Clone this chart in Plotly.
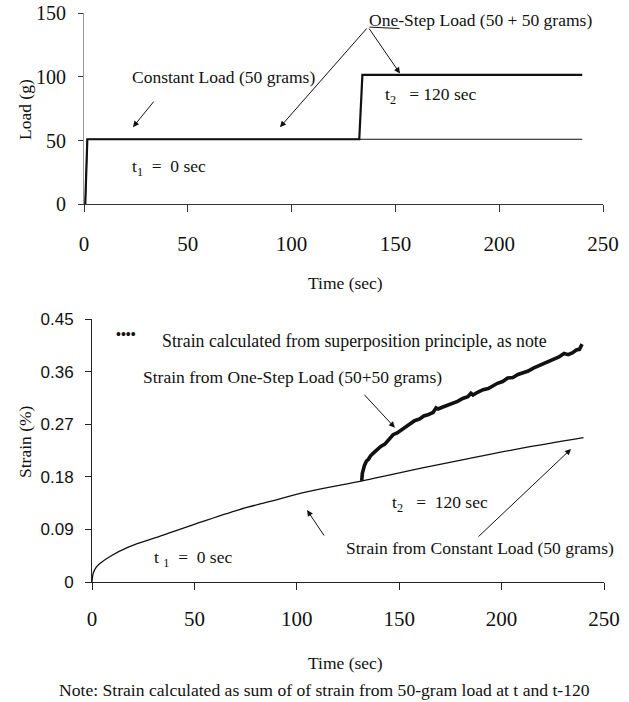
import plotly.graph_objects as go

# ---------------- data ----------------
# Top chart: load history
t_const_load = [0.6, 1.6, 240]
load_const = [0, 51, 51]
t_step_load = [0.6, 1.6, 132.6, 134.1, 240]
load_step = [0, 51, 51, 101.5, 101.5]

# Bottom chart: strain from constant load (50 g)
t_const_strain = [0, 0.6, 2, 4, 9, 18, 33, 51, 72, 86, 106, 132, 145, 165, 188, 210, 240]
strain_const = [0, 0.015, 0.025, 0.032, 0.044, 0.060, 0.078, 0.100, 0.124, 0.137,
                0.155, 0.173, 0.183, 0.198, 0.214, 0.229, 0.247]

# Bottom chart: strain from one-step load (50+50 g)
t_step_strain = [131.7, 132.0, 133, 134, 135, 136, 137.5, 139, 141, 143, 145, 147, 149, 151,
                 153, 155, 157.5, 160, 162, 164, 166.5, 168, 169, 171, 173.5, 176, 178.5,
                 181, 183.5, 185, 186, 188.5, 191, 193.5, 196, 198, 200.5, 203, 205.5, 208,
                 210.5, 213, 215.5, 218, 220.5, 223, 225.5, 228, 230.5, 232.5, 234.5,
                 236.5, 238, 239.3]
strain_step = [0.173, 0.186, 0.199, 0.207, 0.210, 0.216, 0.221, 0.226, 0.232, 0.236, 0.243,
               0.252, 0.255, 0.260, 0.266, 0.270, 0.276, 0.279, 0.284, 0.286, 0.290, 0.298,
               0.296, 0.299, 0.302, 0.306, 0.309, 0.314, 0.317, 0.323, 0.320, 0.325, 0.329,
               0.331, 0.337, 0.340, 0.343, 0.349, 0.350, 0.355, 0.358, 0.361, 0.366, 0.370,
               0.374, 0.377, 0.381, 0.385, 0.391, 0.389, 0.392, 0.397, 0.398, 0.407]

x_ticks = [0, 50, 100, 150, 200, 250]
load_ticks = [0, 50, 100, 150]
strain_ticks = [0, 0.09, 0.18, 0.27, 0.36, 0.45]
strain_tick_text = ["0", "0.09", "0.18", "0.27", "0.36", "0.45"]

W, H = 629, 702
SERIF = "Liberation Serif, Times New Roman, serif"
SANS = "Liberation Sans, Arial, sans-serif"

fig = go.Figure()

fig.add_trace(go.Scatter(x=t_const_load, y=load_const, mode="lines",
                         line=dict(color="#111", width=1.2), xaxis="x", yaxis="y",
                         showlegend=False, hoverinfo="skip"))
fig.add_trace(go.Scatter(x=t_step_load, y=load_step, mode="lines",
                         line=dict(color="#111", width=2.2), xaxis="x", yaxis="y",
                         showlegend=False, hoverinfo="skip"))
fig.add_trace(go.Scatter(x=t_const_strain, y=strain_const, mode="lines",
                         line=dict(color="#111", width=1.3, shape="spline"), xaxis="x2", yaxis="y2",
                         showlegend=False, hoverinfo="skip"))
fig.add_trace(go.Scatter(x=t_step_strain, y=strain_step, mode="lines",
                         line=dict(color="#111", width=3.6), xaxis="x2", yaxis="y2",
                         showlegend=False, hoverinfo="skip"))

def px_x(p):
    return p / W

def px_y(p):
    return 1 - p / H

top_xdom = [px_x(84), px_x(603)]
top_ydom = [px_y(204.3), px_y(13)]
bot_xdom = [px_x(92), px_x(604)]
bot_ydom = [px_y(582), px_y(319)]

common = dict(showgrid=False, zeroline=False, mirror=False, ticks="outside", automargin=False)
inner = dict(ticks="inside", showticklabels=False, showline=False, showgrid=False,
             zeroline=False, automargin=False)

fig.update_layout(
    width=W, height=H, margin=dict(l=0, r=0, t=0, b=0, pad=0, autoexpand=False),
    paper_bgcolor="white", plot_bgcolor="white",
    font=dict(family=SERIF, color="#111"),
    xaxis=dict(domain=top_xdom, anchor="y", range=[0, 250], tickvals=x_ticks,
               showline=True, linecolor="#333", linewidth=1, tickcolor="#333",
               ticklen=7, tickfont=dict(family=SERIF, size=21), ticklabelstandoff=13, **common),
    yaxis=dict(domain=top_ydom, anchor="x", range=[0, 150], tickvals=load_ticks,
               showline=True, linecolor="#999", linewidth=1, tickcolor="#333",
               ticklen=5, tickfont=dict(family=SERIF, size=20), ticklabelstandoff=8, **common),
    xaxis2=dict(domain=bot_xdom, anchor="y2", range=[0, 250], tickvals=x_ticks,
                showline=True, linecolor="#222", linewidth=1, tickcolor="#222",
                ticklen=7, tickfont=dict(family=SERIF, size=21), ticklabelstandoff=11, **common),
    yaxis2=dict(domain=bot_ydom, anchor="x2", range=[0, 0.45], tickvals=strain_ticks,
                ticktext=strain_tick_text,
                showline=True, linecolor="#222", linewidth=1, tickcolor="#222",
                ticklen=6, tickfont=dict(family=SANS, size=17), ticklabelstandoff=8, **common),
    # inner tick halves (ticks cross the axes)
    xaxis3=dict(overlaying="x", anchor="y", range=[0, 250], tickvals=x_ticks,
                ticklen=4, tickcolor="#333", **inner),
    yaxis3=dict(overlaying="y", anchor="x", range=[0, 150], tickvals=load_ticks,
                ticklen=2, tickcolor="#333", **inner),
    xaxis4=dict(overlaying="x2", anchor="y2", range=[0, 250], tickvals=x_ticks,
                ticklen=4, tickcolor="#222", **inner),
    yaxis4=dict(overlaying="y2", anchor="x2", range=[0, 0.45], tickvals=strain_ticks,
                ticklen=2, tickcolor="#222", **inner),
)

ann = []

def text(x, y, s, size=17.5, xanchor="center", family=SERIF, angle=0):
    ann.append(dict(x=px_x(x), y=px_y(y), xref="paper", yref="paper", text=s,
                    showarrow=False, xanchor=xanchor, yanchor="middle", textangle=angle,
                    font=dict(family=family, size=size, color="#111")))

def arrow(xr, yr, x0, y0, x1, y1, head=True):
    ann.append(dict(x=x1, y=y1, ax=x0, ay=y0, xref=xr, yref=yr, axref=xr, ayref=yr,
                    text="", showarrow=True, arrowhead=2 if head else 0, arrowsize=1.2,
                    arrowwidth=1, arrowcolor="#111", standoff=0, startstandoff=0))

# ---- top chart texts
text(481, 20, "One-Step Load (50 + 50 grams)")
text(223, 77, "Constant Load (50 grams)")
text(169, 167, "t<sub>1</sub>  =  0 sec")
text(431, 95, "t<sub>2</sub>   = 120 sec")
text(25, 110, "Load (g)", angle=-90)
text(345, 283, "Time (sec)")
arrow("x", "y", 34.2, 81.8, 23.6, 60.5)
arrow("x", "y", 136.8, 139.0, 94.4, 60.5)
arrow("x", "y", 136.8, 139.0, 152.2, 102.6)
arrow("x", "y", 136.8, 139.0, 152.0, 137.8, head=False)

# ---- bottom chart texts
text(114, 335, "<b>••••</b>", size=14, xanchor="left")
text(160, 341, "Strain calculated from superposition principle, as note", size=17.8, xanchor="left")
text(292, 377, "Strain from One-Step Load (50+50 grams)")
text(440, 503, "t<sub>2</sub>   =  120 sec")
text(480, 548, "Strain from Constant Load (50 grams)")
text(193, 558, "t <sub>1</sub>  =  0 sec")
text(25, 442, "Strain (%)", angle=-90)
text(345, 663, "Time (sec)")
text(324, 690, "Note: Strain calculated as sum of of strain from 50-gram load at t and t-120", size=17.6)
arrow("x2", "y2", 132.3, 0.323, 147.9, 0.264)
arrow("x2", "y2", 188.0, 0.0753, 233.9, 0.2276)
arrow("x2", "y2", 113.8, 0.077, 105.0, 0.123)

fig.update_layout(annotations=ann)

fig.write_html("out.html")
